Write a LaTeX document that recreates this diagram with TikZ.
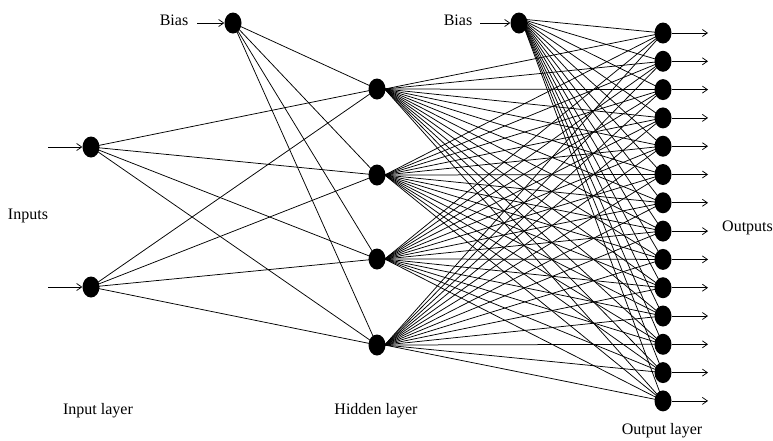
\documentclass[tikz,border=0pt]{standalone}
\usepackage{fontspec}
\setmainfont{Liberation Serif}
\usetikzlibrary{arrows.meta,shapes.geometric}
\pgfdeclarelayer{bg}
\pgfsetlayers{bg,main}
\begin{document}
\begin{tikzpicture}[x=1pt,y=-1pt,
 neuron/.style={ellipse,fill=black,minimum width=17pt,minimum height=21pt,inner sep=0pt},
 link/.style={line width=0.75pt},
 feed/.style={line width=0.75pt,-{Straight Barb[length=5pt,width=7pt]}},
 lbl/.style={font=\fontsize{16}{19}\selectfont,inner sep=0pt}]
\useasboundingbox (0,0) rectangle (773,440);
% nodes
\node[neuron] (i1) at (91,147) {};
\node[neuron] (i2) at (91,287) {};
\node[neuron] (b1) at (233,23) {};
\node[neuron] (b2) at (519,23) {};
\foreach \k/\y in {1/89,2/175,3/259,4/345}
  \node[neuron] (h\k) at (377,\y) {};
\foreach \k in {1,...,14}
  \node[neuron] (o\k) at (663,{33+28.3*(\k-1)}) {};
% labels
\node[lbl] (tb1) at (174,20) {Bias};
\node[lbl] (tb2) at (458,20) {Bias};
\node[lbl] (tin) at (28,216) {Inputs};
\node[lbl,anchor=west] (tout) at (722,228) {Outputs};
\node[lbl] (til) at (98,411) {Input layer};
\node[lbl] (thl) at (376,411) {Hidden layer};
\node[lbl] (tol) at (662,431) {Output layer};
% feed arrows
\coordinate (s1) at (48,147);
\coordinate (s2) at (48,287);
\coordinate (sb1) at (197,23);
\coordinate (sb2) at (480,23);
\draw[feed] (s1) -- (i1);
\draw[feed] (s2) -- (i2);
\draw[feed] (sb1) -- (b1);
\draw[feed] (sb2) -- (b2);
\foreach \k in {1,...,14}{
  \coordinate (e\k) at (708,{33+28.3*(\k-1)});
  \draw[feed] (o\k) -- (e\k);
}
% connections
\begin{pgfonlayer}{bg}
\foreach \h in {1,...,4}{
  \foreach \s in {i1,i2,b1}
    \draw[link] (\s.center) -- (h\h.center);
  \foreach \o in {1,...,14}
    \draw[link] ([xshift=-1pt]h\h.east) -- (o\o.center);
}
\foreach \o in {1,...,14}
  \draw[link] ([shift={(2pt,4pt)}]b2.center) -- (o\o.center);
\end{pgfonlayer}
\end{tikzpicture}
\end{document}
